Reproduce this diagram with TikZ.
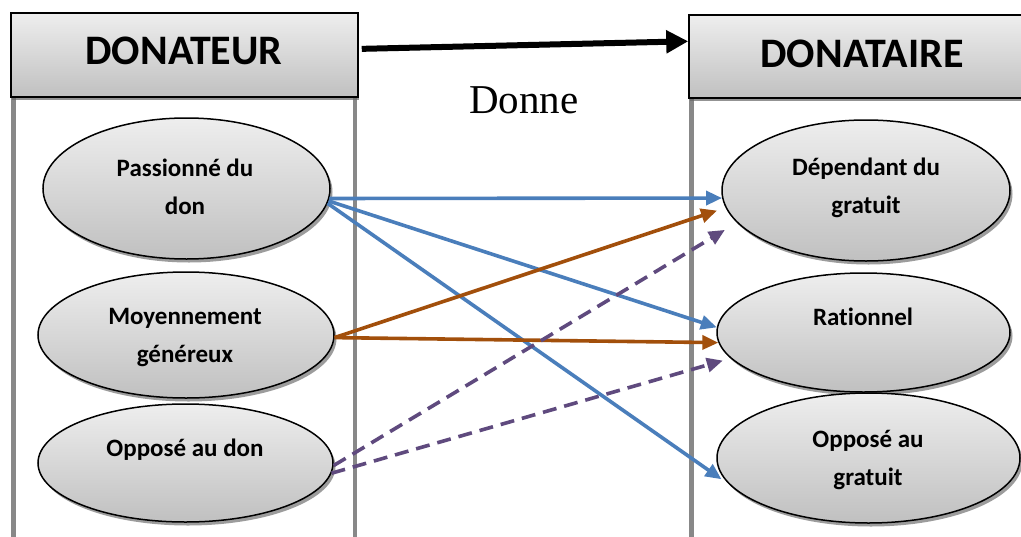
\documentclass[tikz,border=0pt]{standalone}
\usepackage{fontspec}
\newfontfamily\calf{Carlito}[Ligatures=CommonOff]
\newfontfamily\tmsf{Liberation Serif}
\usetikzlibrary{arrows.meta,shapes.geometric,shadows}
\definecolor{bluec}{HTML}{4A7EBB}
\definecolor{orgc}{HTML}{A24F0B}
\definecolor{purc}{HTML}{5F4A7E}
\definecolor{ellTop}{HTML}{EEEEEE}
\definecolor{ellBot}{HTML}{C0C0C0}
\definecolor{colgray}{HTML}{888888}
\tikzset{
  ell/.style={ellipse, draw=black, line width=1.5pt, inner sep=0pt,
    top color=ellTop, bottom color=ellBot,
    drop shadow={shadow xshift=2.5pt, shadow yshift=-3.5pt, fill=black!55, opacity=0.7}},
  hdr/.style={rectangle, draw=black, line width=1.5pt, inner sep=0pt,
    top color=ellTop, bottom color=ellBot, minimum height=84pt,
    drop shadow={shadow xshift=1pt, shadow yshift=-2.5pt, fill=black!60, opacity=0.7}},
  lbl/.style={font=\calf\bfseries\fontsize{25}{38}\selectfont, align=center, inner sep=0pt},
  htext/.style={font=\calf\bfseries\fontsize{42}{50}\selectfont, inner sep=0pt},
  colline/.style={draw=colgray, line width=4.5pt},
  link/.style={line width=3.6pt, -{Triangle[length=16pt,width=14pt]}},
  dashlink/.style={link, dash pattern=on 14pt off 8pt},
}
\begin{document}
\begin{tikzpicture}[x=1pt,y=-1pt]
\useasboundingbox (0,0) rectangle (1021,536);
\clip (0,0) rectangle (1021,536);
\fill[white] (0,0) rectangle (1021,536);
% columns
\draw[colline] (13.5,97) -- (13.5,540);
\draw[colline] (355,97) -- (355,540);
\draw[colline] (691.5,98) -- (691.5,540);
% headers
\node[hdr, minimum width=347pt] (h1) at (184.5,55) {};
\node[hdr, minimum width=346pt, minimum height=83pt] (h2) at (862,56.5) {};
\node[htext] (ht1) at (184,51) {DONATEUR};
\node[htext] (ht2) at (862,53.5) {DONATAIRE};
\draw[line width=6pt, -{Triangle[length=22pt,width=22pt]}, shorten <=3pt] (h1.2) -- (h2.175);
\node[font=\tmsf\fontsize{41}{48}\selectfont, inner sep=0pt] (donne) at (524,100) {Donne};
% ellipses
\node[ell, minimum width=287pt, minimum height=141pt] (p1) at (186.5,188.5) {};
\node[ell, minimum width=296pt, minimum height=126pt] (p2) at (186,335) {};
\node[ell, minimum width=295pt, minimum height=118pt] (p3) at (185.5,463) {};
\node[ell, minimum width=288pt, minimum height=141pt] (d1) at (866,190.5) {};
\node[ell, minimum width=293pt, minimum height=119pt] (d2) at (863.5,332.5) {};
\node[ell, minimum width=303pt, minimum height=130pt] (d3) at (868.5,458) {};
\node[lbl] (t1) at (185,187) {Passionné du\\don};
\node[lbl] (t2) at (185,338) {Moyennement\\généreux};
\node[lbl] (t3) at (185,450) {Opposé au don};
\node[lbl] (u1) at (866,188) {Dépendant du\\gratuit};
\node[lbl] (u2) at (863,317) {Rationnel};
\node[lbl] (u3) at (868,460) {Opposé au\\gratuit};
% links
\draw[link, bluec] (p1.-4) -- (d1.183);
\draw[link, bluec] (p1.-5) -- (d2.178);
\draw[link, bluec, shorten >=10pt] (p1.-6) -- (d3.191);
\draw[link, orgc, shorten >=9pt] (p2.-1) -- (d1.187);
\draw[link, orgc] (p2.-1) -- (d2.184);
\draw[dashlink, purc, shorten >=14pt] (p3.-1) -- (d1.194);
\draw[dashlink, purc, shorten >=8pt] (p3.-4) -- (d2.191);
\end{tikzpicture}
\end{document}
